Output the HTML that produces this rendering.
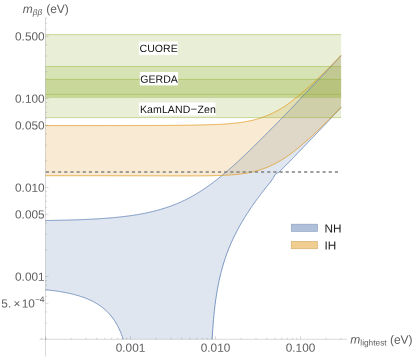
<!DOCTYPE html>
<html><head><meta charset="utf-8"><title>m_bb vs m_lightest</title>
<style>
html,body{margin:0;padding:0;background:#fff;}
svg{display:block;will-change:transform;}
text{font-family:"Liberation Sans",sans-serif;text-rendering:geometricPrecision;}
.tk{font-size:11.8px;fill:#606060;}
.lb{font-size:12px;fill:#606060;}
.bl{font-size:10.55px;fill:#111;}
.lg{font-size:11.8px;fill:#1a1a1a;}
</style></head><body>
<svg width="415" height="357" viewBox="0 0 415 357">
<rect x="0" y="0" width="415" height="357" fill="#ffffff"/>

<path d="M45.50,220.54 L46.30,220.53 L47.10,220.52 L47.90,220.50 L48.70,220.49 L49.50,220.47 L50.30,220.46 L51.10,220.45 L51.90,220.43 L52.70,220.42 L53.50,220.40 L54.30,220.39 L55.10,220.37 L55.90,220.35 L56.70,220.34 L57.50,220.32 L58.30,220.31 L59.10,220.29 L59.90,220.27 L60.70,220.25 L61.50,220.23 L62.30,220.22 L63.10,220.20 L63.90,220.18 L64.70,220.16 L65.50,220.14 L66.30,220.12 L67.10,220.09 L67.90,220.07 L68.70,220.05 L69.50,220.03 L70.30,220.01 L71.10,219.98 L71.90,219.96 L72.70,219.93 L73.50,219.91 L74.30,219.88 L75.10,219.86 L75.90,219.83 L76.70,219.80 L77.50,219.77 L78.30,219.75 L79.10,219.72 L79.90,219.69 L80.70,219.66 L81.50,219.63 L82.30,219.59 L83.10,219.56 L83.90,219.53 L84.70,219.49 L85.50,219.46 L86.30,219.42 L87.10,219.39 L87.90,219.35 L88.70,219.31 L89.50,219.27 L90.30,219.23 L91.10,219.19 L91.90,219.15 L92.70,219.11 L93.50,219.07 L94.30,219.02 L95.10,218.98 L95.90,218.93 L96.70,218.88 L97.50,218.84 L98.30,218.79 L99.10,218.74 L99.90,218.69 L100.70,218.63 L101.50,218.58 L102.30,218.53 L103.10,218.47 L103.90,218.41 L104.70,218.35 L105.50,218.30 L106.30,218.23 L107.10,218.17 L107.90,218.11 L108.70,218.05 L109.50,217.98 L110.30,217.91 L111.10,217.84 L111.90,217.78 L112.70,217.70 L113.50,217.63 L114.30,217.56 L115.10,217.48 L115.90,217.40 L116.70,217.33 L117.50,217.24 L118.30,217.16 L119.10,217.08 L119.90,216.99 L120.70,216.91 L121.50,216.82 L122.30,216.73 L123.10,216.63 L123.90,216.54 L124.70,216.44 L125.50,216.34 L126.30,216.24 L127.10,216.14 L127.90,216.03 L128.70,215.93 L129.50,215.82 L130.30,215.70 L131.10,215.59 L131.90,215.47 L132.70,215.36 L133.50,215.23 L134.30,215.11 L135.10,214.98 L135.90,214.86 L136.70,214.72 L137.50,214.59 L138.30,214.45 L139.10,214.31 L139.90,214.17 L140.70,214.03 L141.50,213.88 L142.30,213.73 L143.10,213.57 L143.90,213.42 L144.70,213.26 L145.50,213.09 L146.30,212.93 L147.10,212.76 L147.90,212.58 L148.70,212.41 L149.50,212.23 L150.30,212.04 L151.10,211.86 L151.90,211.67 L152.70,211.47 L153.50,211.28 L154.30,211.08 L155.10,210.87 L155.90,210.66 L156.70,210.45 L157.50,210.24 L158.30,210.02 L159.10,209.80 L159.90,209.57 L160.70,209.34 L161.50,209.10 L162.30,208.87 L163.10,208.62 L163.90,208.37 L164.70,208.12 L165.50,207.87 L166.30,207.60 L167.10,207.34 L167.90,207.07 L168.70,206.79 L169.50,206.51 L170.30,206.23 L171.10,205.94 L171.90,205.64 L172.70,205.34 L173.50,205.04 L174.30,204.73 L175.10,204.41 L175.90,204.09 L176.70,203.76 L177.50,203.43 L178.30,203.09 L179.10,202.75 L179.90,202.40 L180.70,202.04 L181.50,201.68 L182.30,201.31 L183.10,200.94 L183.90,200.56 L184.70,200.18 L185.50,199.79 L186.30,199.39 L187.10,198.99 L187.90,198.58 L188.70,198.16 L189.50,197.74 L190.30,197.31 L191.10,196.88 L191.90,196.44 L192.70,195.99 L193.50,195.54 L194.30,195.07 L195.10,194.61 L195.90,194.14 L196.70,193.66 L197.50,193.17 L198.30,192.68 L199.10,192.18 L199.90,191.67 L200.70,191.16 L201.50,190.65 L202.30,190.12 L203.10,189.59 L203.90,189.06 L204.70,188.52 L205.50,187.97 L206.30,187.42 L207.10,186.86 L207.90,186.30 L208.70,185.73 L209.50,185.16 L210.30,184.58 L211.10,183.99 L211.90,183.40 L212.70,182.80 L213.50,182.20 L214.30,181.59 L215.10,180.98 L215.90,180.36 L216.70,179.74 L217.50,179.11 L218.30,178.48 L219.10,177.84 L219.90,177.20 L220.70,176.55 L221.50,175.90 L222.30,175.24 L223.10,174.58 L223.90,173.91 L224.70,173.24 L225.50,172.57 L226.30,171.89 L227.10,171.20 L227.90,170.52 L228.70,169.82 L229.50,169.13 L230.30,168.43 L231.10,167.72 L231.90,167.01 L232.70,166.30 L233.50,165.58 L234.30,164.86 L235.10,164.14 L235.90,163.41 L236.70,162.68 L237.50,161.94 L238.30,161.20 L239.10,160.46 L239.90,159.72 L240.70,158.97 L241.50,158.22 L242.30,157.46 L243.10,156.71 L243.90,155.95 L244.70,155.18 L245.50,154.42 L246.30,153.65 L247.10,152.88 L247.90,152.11 L248.70,151.33 L249.50,150.55 L250.30,149.78 L251.10,149.00 L251.90,148.21 L252.70,147.43 L253.50,146.64 L254.30,145.86 L255.10,145.07 L255.90,144.28 L256.70,143.49 L257.50,142.70 L258.30,141.90 L259.10,141.11 L259.90,140.31 L260.70,139.52 L261.50,138.72 L262.30,137.93 L263.10,137.13 L263.90,136.33 L264.70,135.53 L265.50,134.73 L266.30,133.93 L267.10,133.13 L267.90,132.33 L268.70,131.52 L269.50,130.72 L270.30,129.91 L271.10,129.11 L271.90,128.30 L272.70,127.50 L273.50,126.69 L274.30,125.88 L275.10,125.07 L275.90,124.26 L276.70,123.45 L277.50,122.64 L278.30,121.83 L279.10,121.02 L279.90,120.20 L280.70,119.39 L281.50,118.57 L282.30,117.76 L283.10,116.94 L283.90,116.12 L284.70,115.31 L285.50,114.49 L286.30,113.67 L287.10,112.85 L287.90,112.02 L288.70,111.20 L289.50,110.38 L290.30,109.55 L291.10,108.72 L291.90,107.89 L292.70,107.05 L293.50,106.21 L294.30,105.36 L295.10,104.51 L295.90,103.66 L296.70,102.80 L297.50,101.95 L298.30,101.09 L299.10,100.23 L299.90,99.37 L300.70,98.52 L301.50,97.66 L302.30,96.80 L303.10,95.95 L303.90,95.10 L304.70,94.25 L305.50,93.40 L306.30,92.56 L307.10,91.71 L307.90,90.87 L308.70,90.02 L309.50,89.18 L310.30,88.33 L311.10,87.49 L311.90,86.64 L312.70,85.80 L313.50,84.96 L314.30,84.11 L315.10,83.27 L315.90,82.43 L316.70,81.58 L317.50,80.74 L318.30,79.89 L319.10,79.05 L319.90,78.20 L320.70,77.36 L321.50,76.51 L322.30,75.67 L323.10,74.82 L323.90,73.97 L324.70,73.13 L325.50,72.28 L326.30,71.43 L327.10,70.58 L327.90,69.73 L328.70,68.88 L329.50,68.03 L330.30,67.18 L331.10,66.33 L331.90,65.48 L332.70,64.63 L333.50,63.77 L334.30,62.92 L335.10,62.07 L335.90,61.22 L336.70,60.36 L337.50,59.51 L338.30,58.65 L339.10,57.80 L339.90,56.95 L341.10,55.67 L341.10,107.42 L339.90,108.72 L339.10,109.59 L338.30,110.46 L337.50,111.33 L336.70,112.19 L335.90,113.05 L335.10,113.90 L334.30,114.75 L333.50,115.60 L332.70,116.44 L331.90,117.29 L331.10,118.13 L330.30,118.98 L329.50,119.82 L328.70,120.67 L327.90,121.51 L327.10,122.36 L326.30,123.20 L325.50,124.04 L324.70,124.89 L323.90,125.73 L323.10,126.57 L322.30,127.41 L321.50,128.26 L320.70,129.10 L319.90,129.94 L319.10,130.78 L318.30,131.62 L317.50,132.46 L316.70,133.30 L315.90,134.14 L315.10,134.98 L314.30,135.82 L313.50,136.66 L312.70,137.50 L311.90,138.34 L311.10,139.17 L310.30,140.01 L309.50,140.85 L308.70,141.68 L307.90,142.52 L307.10,143.35 L306.30,144.19 L305.50,145.03 L304.70,145.86 L303.90,146.70 L303.10,147.53 L302.30,148.37 L301.50,149.20 L300.70,150.04 L299.90,150.87 L299.10,151.71 L298.30,152.54 L297.50,153.37 L296.70,154.21 L295.90,155.04 L295.10,155.87 L294.30,156.69 L293.50,157.52 L292.70,158.35 L291.90,159.18 L291.10,160.00 L290.30,160.82 L289.50,161.65 L288.70,162.46 L287.90,163.26 L287.10,164.07 L286.30,164.87 L285.50,165.68 L284.70,166.49 L283.90,167.30 L283.10,168.10 L282.30,168.90 L281.50,169.72 L280.70,170.52 L279.90,171.31 L279.10,172.03 L278.30,172.52 L277.50,172.93 L276.70,173.42 L275.90,173.95 L275.10,174.49 L274.30,175.95 L273.50,177.53 L272.70,178.78 L271.90,179.96 L271.10,181.09 L270.30,182.15 L269.50,183.14 L268.70,184.13 L267.90,185.12 L267.10,186.12 L266.30,187.13 L265.50,188.14 L264.70,189.15 L263.90,190.18 L263.10,191.21 L262.30,192.24 L261.50,193.29 L260.70,194.34 L259.90,195.40 L259.10,196.46 L258.30,197.54 L257.50,198.62 L256.70,199.71 L255.90,200.81 L255.10,201.92 L254.30,203.04 L253.50,204.17 L252.70,205.32 L251.90,206.47 L251.10,207.63 L250.30,208.81 L249.50,210.00 L248.70,211.20 L247.90,212.42 L247.10,213.65 L246.30,214.90 L245.50,216.16 L244.70,217.45 L243.90,218.75 L243.10,220.06 L242.30,221.40 L241.50,222.76 L240.70,224.14 L239.90,225.55 L239.10,226.98 L238.30,228.44 L237.50,229.93 L236.70,231.44 L235.90,232.99 L235.10,234.58 L234.30,236.19 L233.50,237.85 L232.70,239.55 L231.90,241.30 L231.10,243.10 L230.30,244.95 L229.50,246.85 L228.70,248.82 L227.90,250.86 L227.10,252.97 L226.30,255.16 L225.50,257.44 L224.70,259.83 L223.90,262.32 L223.10,264.94 L222.30,267.70 L221.50,270.63 L220.70,273.73 L219.90,277.05 L219.10,280.62 L218.30,284.48 L217.50,288.70 L216.70,293.36 L215.90,298.56 L215.10,304.48 L214.30,311.33 L213.50,319.53 L212.70,329.76 L211.90,339.30 L211.10,339.30 L210.30,339.30 L209.50,339.30 L208.70,339.30 L207.90,339.30 L207.10,339.30 L206.30,339.30 L205.50,339.30 L204.70,339.30 L203.90,339.30 L203.10,339.30 L202.30,339.30 L201.50,339.30 L200.70,339.30 L199.90,339.30 L199.10,339.30 L198.30,339.30 L197.50,339.30 L196.70,339.30 L195.90,339.30 L195.10,339.30 L194.30,339.30 L193.50,339.30 L192.70,339.30 L191.90,339.30 L191.10,339.30 L190.30,339.30 L189.50,339.30 L188.70,339.30 L187.90,339.30 L187.10,339.30 L186.30,339.30 L185.50,339.30 L184.70,339.30 L183.90,339.30 L183.10,339.30 L182.30,339.30 L181.50,339.30 L180.70,339.30 L179.90,339.30 L179.10,339.30 L178.30,339.30 L177.50,339.30 L176.70,339.30 L175.90,339.30 L175.10,339.30 L174.30,339.30 L173.50,339.30 L172.70,339.30 L171.90,339.30 L171.10,339.30 L170.30,339.30 L169.50,339.30 L168.70,339.30 L167.90,339.30 L167.10,339.30 L166.30,339.30 L165.50,339.30 L164.70,339.30 L163.90,339.30 L163.10,339.30 L162.30,339.30 L161.50,339.30 L160.70,339.30 L159.90,339.30 L159.10,339.30 L158.30,339.30 L157.50,339.30 L156.70,339.30 L155.90,339.30 L155.10,339.30 L154.30,339.30 L153.50,339.30 L152.70,339.30 L151.90,339.30 L151.10,339.30 L150.30,339.30 L149.50,339.30 L148.70,339.30 L147.90,339.30 L147.10,339.30 L146.30,339.30 L145.50,339.30 L144.70,339.30 L143.90,339.30 L143.10,339.30 L142.30,339.30 L141.50,339.30 L140.70,339.30 L139.90,339.30 L139.10,339.30 L138.30,339.30 L137.50,339.30 L136.70,339.30 L135.90,339.30 L135.10,339.30 L134.30,339.30 L133.50,339.30 L132.70,339.30 L131.90,339.30 L131.10,339.30 L130.30,339.30 L129.50,339.30 L128.70,339.30 L127.90,339.30 L127.10,339.30 L126.30,339.30 L125.50,339.30 L124.70,339.30 L123.90,339.30 L123.10,338.97 L122.30,336.62 L121.50,334.44 L120.70,332.43 L119.90,330.55 L119.10,328.80 L118.30,327.16 L117.50,325.62 L116.70,324.17 L115.90,322.80 L115.10,321.50 L114.30,320.28 L113.50,319.11 L112.70,318.01 L111.90,316.95 L111.10,315.95 L110.30,314.99 L109.50,314.08 L108.70,313.21 L107.90,312.37 L107.10,311.57 L106.30,310.80 L105.50,310.06 L104.70,309.35 L103.90,308.67 L103.10,308.02 L102.30,307.39 L101.50,306.78 L100.70,306.19 L99.90,305.63 L99.10,305.08 L98.30,304.56 L97.50,304.05 L96.70,303.56 L95.90,303.09 L95.10,302.63 L94.30,302.19 L93.50,301.76 L92.70,301.34 L91.90,300.94 L91.10,300.55 L90.30,300.17 L89.50,299.81 L88.70,299.45 L87.90,299.11 L87.10,298.78 L86.30,298.45 L85.50,298.14 L84.70,297.83 L83.90,297.54 L83.10,297.25 L82.30,296.97 L81.50,296.70 L80.70,296.44 L79.90,296.18 L79.10,295.93 L78.30,295.69 L77.50,295.45 L76.70,295.22 L75.90,295.00 L75.10,294.78 L74.30,294.57 L73.50,294.37 L72.70,294.17 L71.90,293.97 L71.10,293.78 L70.30,293.60 L69.50,293.42 L68.70,293.24 L67.90,293.07 L67.10,292.90 L66.30,292.74 L65.50,292.58 L64.70,292.43 L63.90,292.28 L63.10,292.13 L62.30,291.99 L61.50,291.85 L60.70,291.72 L59.90,291.58 L59.10,291.45 L58.30,291.33 L57.50,291.21 L56.70,291.09 L55.90,290.97 L55.10,290.86 L54.30,290.74 L53.50,290.64 L52.70,290.53 L51.90,290.43 L51.10,290.33 L50.30,290.23 L49.50,290.13 L48.70,290.04 L47.90,289.95 L47.10,289.86 L46.30,289.77 L45.50,289.68Z" fill="#5E81B5" fill-opacity="0.2" stroke="none"/>
<path d="M45.50,125.59 L46.30,125.59 L47.10,125.59 L47.90,125.59 L48.70,125.59 L49.50,125.59 L50.30,125.59 L51.10,125.59 L51.90,125.59 L52.70,125.59 L53.50,125.59 L54.30,125.59 L55.10,125.59 L55.90,125.59 L56.70,125.59 L57.50,125.59 L58.30,125.59 L59.10,125.59 L59.90,125.59 L60.70,125.59 L61.50,125.59 L62.30,125.59 L63.10,125.59 L63.90,125.59 L64.70,125.59 L65.50,125.58 L66.30,125.58 L67.10,125.58 L67.90,125.58 L68.70,125.58 L69.50,125.58 L70.30,125.58 L71.10,125.58 L71.90,125.58 L72.70,125.58 L73.50,125.58 L74.30,125.58 L75.10,125.58 L75.90,125.58 L76.70,125.58 L77.50,125.58 L78.30,125.58 L79.10,125.58 L79.90,125.58 L80.70,125.58 L81.50,125.58 L82.30,125.58 L83.10,125.58 L83.90,125.58 L84.70,125.58 L85.50,125.58 L86.30,125.58 L87.10,125.58 L87.90,125.58 L88.70,125.58 L89.50,125.58 L90.30,125.58 L91.10,125.58 L91.90,125.58 L92.70,125.58 L93.50,125.58 L94.30,125.57 L95.10,125.57 L95.90,125.57 L96.70,125.57 L97.50,125.57 L98.30,125.57 L99.10,125.57 L99.90,125.57 L100.70,125.57 L101.50,125.57 L102.30,125.57 L103.10,125.57 L103.90,125.57 L104.70,125.57 L105.50,125.57 L106.30,125.57 L107.10,125.57 L107.90,125.57 L108.70,125.57 L109.50,125.56 L110.30,125.56 L111.10,125.56 L111.90,125.56 L112.70,125.56 L113.50,125.56 L114.30,125.56 L115.10,125.56 L115.90,125.56 L116.70,125.56 L117.50,125.56 L118.30,125.56 L119.10,125.56 L119.90,125.55 L120.70,125.55 L121.50,125.55 L122.30,125.55 L123.10,125.55 L123.90,125.55 L124.70,125.55 L125.50,125.55 L126.30,125.55 L127.10,125.54 L127.90,125.54 L128.70,125.54 L129.50,125.54 L130.30,125.54 L131.10,125.54 L131.90,125.54 L132.70,125.54 L133.50,125.53 L134.30,125.53 L135.10,125.53 L135.90,125.53 L136.70,125.53 L137.50,125.53 L138.30,125.52 L139.10,125.52 L139.90,125.52 L140.70,125.52 L141.50,125.52 L142.30,125.52 L143.10,125.51 L143.90,125.51 L144.70,125.51 L145.50,125.51 L146.30,125.50 L147.10,125.50 L147.90,125.50 L148.70,125.50 L149.50,125.50 L150.30,125.49 L151.10,125.49 L151.90,125.49 L152.70,125.48 L153.50,125.48 L154.30,125.48 L155.10,125.48 L155.90,125.47 L156.70,125.47 L157.50,125.47 L158.30,125.46 L159.10,125.46 L159.90,125.45 L160.70,125.45 L161.50,125.45 L162.30,125.44 L163.10,125.44 L163.90,125.43 L164.70,125.43 L165.50,125.43 L166.30,125.42 L167.10,125.42 L167.90,125.41 L168.70,125.41 L169.50,125.40 L170.30,125.39 L171.10,125.39 L171.90,125.38 L172.70,125.38 L173.50,125.37 L174.30,125.36 L175.10,125.36 L175.90,125.35 L176.70,125.34 L177.50,125.34 L178.30,125.33 L179.10,125.32 L179.90,125.31 L180.70,125.30 L181.50,125.29 L182.30,125.29 L183.10,125.28 L183.90,125.27 L184.70,125.26 L185.50,125.25 L186.30,125.24 L187.10,125.22 L187.90,125.21 L188.70,125.20 L189.50,125.19 L190.30,125.18 L191.10,125.16 L191.90,125.15 L192.70,125.14 L193.50,125.12 L194.30,125.11 L195.10,125.09 L195.90,125.07 L196.70,125.06 L197.50,125.04 L198.30,125.02 L199.10,125.00 L199.90,124.98 L200.70,124.96 L201.50,124.94 L202.30,124.92 L203.10,124.90 L203.90,124.88 L204.70,124.86 L205.50,124.84 L206.30,124.82 L207.10,124.80 L207.90,124.77 L208.70,124.75 L209.50,124.72 L210.30,124.70 L211.10,124.67 L211.90,124.65 L212.70,124.62 L213.50,124.59 L214.30,124.56 L215.10,124.53 L215.90,124.50 L216.70,124.46 L217.50,124.43 L218.30,124.39 L219.10,124.35 L219.90,124.32 L220.70,124.27 L221.50,124.23 L222.30,124.19 L223.10,124.14 L223.90,124.09 L224.70,124.04 L225.50,123.99 L226.30,123.94 L227.10,123.88 L227.90,123.82 L228.70,123.76 L229.50,123.70 L230.30,123.63 L231.10,123.56 L231.90,123.49 L232.70,123.41 L233.50,123.33 L234.30,123.25 L235.10,123.16 L235.90,123.07 L236.70,122.98 L237.50,122.89 L238.30,122.79 L239.10,122.68 L239.90,122.58 L240.70,122.47 L241.50,122.35 L242.30,122.23 L243.10,122.11 L243.90,121.98 L244.70,121.85 L245.50,121.71 L246.30,121.57 L247.10,121.43 L247.90,121.27 L248.70,121.12 L249.50,120.95 L250.30,120.78 L251.10,120.61 L251.90,120.43 L252.70,120.24 L253.50,120.05 L254.30,119.85 L255.10,119.64 L255.90,119.42 L256.70,119.20 L257.50,118.97 L258.30,118.74 L259.10,118.49 L259.90,118.24 L260.70,117.98 L261.50,117.71 L262.30,117.44 L263.10,117.16 L263.90,116.87 L264.70,116.57 L265.50,116.26 L266.30,115.95 L267.10,115.62 L267.90,115.29 L268.70,114.95 L269.50,114.60 L270.30,114.24 L271.10,113.88 L271.90,113.50 L272.70,113.12 L273.50,112.72 L274.30,112.32 L275.10,111.91 L275.90,111.49 L276.70,111.06 L277.50,110.62 L278.30,110.17 L279.10,109.71 L279.90,109.24 L280.70,108.76 L281.50,108.28 L282.30,107.78 L283.10,107.28 L283.90,106.76 L284.70,106.24 L285.50,105.71 L286.30,105.16 L287.10,104.60 L287.90,104.02 L288.70,103.44 L289.50,102.84 L290.30,102.23 L291.10,101.62 L291.90,100.99 L292.70,100.35 L293.50,99.71 L294.30,99.07 L295.10,98.41 L295.90,97.76 L296.70,97.10 L297.50,96.43 L298.30,95.77 L299.10,95.10 L299.90,94.44 L300.70,93.77 L301.50,93.10 L302.30,92.42 L303.10,91.74 L303.90,91.06 L304.70,90.37 L305.50,89.68 L306.30,88.99 L307.10,88.29 L307.90,87.59 L308.70,86.88 L309.50,86.17 L310.30,85.46 L311.10,84.74 L311.90,84.02 L312.70,83.30 L313.50,82.57 L314.30,81.83 L315.10,81.10 L315.90,80.36 L316.70,79.62 L317.50,78.87 L318.30,78.12 L319.10,77.36 L319.90,76.60 L320.70,75.84 L321.50,75.08 L322.30,74.31 L323.10,73.53 L323.90,72.76 L324.70,71.97 L325.50,71.19 L326.30,70.40 L327.10,69.61 L327.90,68.81 L328.70,68.01 L329.50,67.20 L330.30,66.40 L331.10,65.59 L331.90,64.77 L332.70,63.95 L333.50,63.14 L334.30,62.31 L335.10,61.49 L335.90,60.66 L336.70,59.83 L337.50,59.00 L338.30,58.17 L339.10,57.33 L339.90,56.50 L341.10,55.24 L341.10,107.32 L339.90,108.54 L339.10,109.35 L338.30,110.17 L337.50,110.98 L336.70,111.79 L335.90,112.60 L335.10,113.41 L334.30,114.22 L333.50,115.02 L332.70,115.83 L331.90,116.63 L331.10,117.43 L330.30,118.23 L329.50,119.03 L328.70,119.82 L327.90,120.62 L327.10,121.41 L326.30,122.20 L325.50,122.99 L324.70,123.77 L323.90,124.56 L323.10,125.34 L322.30,126.12 L321.50,126.90 L320.70,127.67 L319.90,128.44 L319.10,129.21 L318.30,129.98 L317.50,130.74 L316.70,131.50 L315.90,132.26 L315.10,133.01 L314.30,133.76 L313.50,134.51 L312.70,135.25 L311.90,135.99 L311.10,136.73 L310.30,137.46 L309.50,138.19 L308.70,138.92 L307.90,139.64 L307.10,140.35 L306.30,141.06 L305.50,141.77 L304.70,142.47 L303.90,143.17 L303.10,143.86 L302.30,144.55 L301.50,145.23 L300.70,145.90 L299.90,146.57 L299.10,147.24 L298.30,147.90 L297.50,148.55 L296.70,149.19 L295.90,149.83 L295.10,150.46 L294.30,151.08 L293.50,151.69 L292.70,152.30 L291.90,152.90 L291.10,153.50 L290.30,154.08 L289.50,154.66 L288.70,155.23 L287.90,155.79 L287.10,156.34 L286.30,156.89 L285.50,157.42 L284.70,157.95 L283.90,158.47 L283.10,158.98 L282.30,159.49 L281.50,159.98 L280.70,160.46 L279.90,160.94 L279.10,161.41 L278.30,161.87 L277.50,162.32 L276.70,162.76 L275.90,163.19 L275.10,163.61 L274.30,164.02 L273.50,164.43 L272.70,164.83 L271.90,165.21 L271.10,165.59 L270.30,165.96 L269.50,166.32 L268.70,166.67 L267.90,167.02 L267.10,167.35 L266.30,167.67 L265.50,167.99 L264.70,168.29 L263.90,168.59 L263.10,168.88 L262.30,169.16 L261.50,169.43 L260.70,169.70 L259.90,169.95 L259.10,170.20 L258.30,170.44 L257.50,170.67 L256.70,170.89 L255.90,171.11 L255.10,171.31 L254.30,171.51 L253.50,171.71 L252.70,171.90 L251.90,172.08 L251.10,172.25 L250.30,172.42 L249.50,172.58 L248.70,172.73 L247.90,172.88 L247.10,173.03 L246.30,173.16 L245.50,173.29 L244.70,173.42 L243.90,173.54 L243.10,173.66 L242.30,173.77 L241.50,173.88 L240.70,173.98 L239.90,174.08 L239.10,174.17 L238.30,174.26 L237.50,174.35 L236.70,174.43 L235.90,174.51 L235.10,174.59 L234.30,174.66 L233.50,174.73 L232.70,174.79 L231.90,174.85 L231.10,174.91 L230.30,174.97 L229.50,175.02 L228.70,175.07 L227.90,175.12 L227.10,175.17 L226.30,175.21 L225.50,175.25 L224.70,175.29 L223.90,175.33 L223.10,175.37 L222.30,175.40 L221.50,175.43 L220.70,175.46 L219.90,175.49 L219.10,175.52 L218.30,175.54 L217.50,175.57 L216.70,175.59 L215.90,175.61 L215.10,175.63 L214.30,175.65 L213.50,175.67 L212.70,175.69 L211.90,175.70 L211.10,175.72 L210.30,175.73 L209.50,175.74 L208.70,175.76 L207.90,175.77 L207.10,175.78 L206.30,175.79 L205.50,175.80 L204.70,175.80 L203.90,175.81 L203.10,175.82 L202.30,175.83 L201.50,175.83 L200.70,175.84 L199.90,175.84 L199.10,175.85 L198.30,175.85 L197.50,175.86 L196.70,175.86 L195.90,175.86 L195.10,175.87 L194.30,175.87 L193.50,175.87 L192.70,175.87 L191.90,175.87 L191.10,175.88 L190.30,175.88 L189.50,175.88 L188.70,175.88 L187.90,175.88 L187.10,175.88 L186.30,175.88 L185.50,175.88 L184.70,175.88 L183.90,175.88 L183.10,175.88 L182.30,175.88 L181.50,175.88 L180.70,175.87 L179.90,175.87 L179.10,175.87 L178.30,175.87 L177.50,175.87 L176.70,175.87 L175.90,175.87 L175.10,175.86 L174.30,175.86 L173.50,175.86 L172.70,175.86 L171.90,175.86 L171.10,175.86 L170.30,175.85 L169.50,175.85 L168.70,175.85 L167.90,175.85 L167.10,175.85 L166.30,175.84 L165.50,175.84 L164.70,175.84 L163.90,175.84 L163.10,175.84 L162.30,175.83 L161.50,175.83 L160.70,175.83 L159.90,175.83 L159.10,175.83 L158.30,175.82 L157.50,175.82 L156.70,175.82 L155.90,175.82 L155.10,175.82 L154.30,175.81 L153.50,175.81 L152.70,175.81 L151.90,175.81 L151.10,175.81 L150.30,175.81 L149.50,175.80 L148.70,175.80 L147.90,175.80 L147.10,175.80 L146.30,175.80 L145.50,175.79 L144.70,175.79 L143.90,175.79 L143.10,175.79 L142.30,175.79 L141.50,175.79 L140.70,175.78 L139.90,175.78 L139.10,175.78 L138.30,175.78 L137.50,175.78 L136.70,175.78 L135.90,175.77 L135.10,175.77 L134.30,175.77 L133.50,175.77 L132.70,175.77 L131.90,175.77 L131.10,175.77 L130.30,175.76 L129.50,175.76 L128.70,175.76 L127.90,175.76 L127.10,175.76 L126.30,175.76 L125.50,175.76 L124.70,175.76 L123.90,175.75 L123.10,175.75 L122.30,175.75 L121.50,175.75 L120.70,175.75 L119.90,175.75 L119.10,175.75 L118.30,175.75 L117.50,175.74 L116.70,175.74 L115.90,175.74 L115.10,175.74 L114.30,175.74 L113.50,175.74 L112.70,175.74 L111.90,175.74 L111.10,175.74 L110.30,175.74 L109.50,175.74 L108.70,175.73 L107.90,175.73 L107.10,175.73 L106.30,175.73 L105.50,175.73 L104.70,175.73 L103.90,175.73 L103.10,175.73 L102.30,175.73 L101.50,175.73 L100.70,175.73 L99.90,175.73 L99.10,175.73 L98.30,175.72 L97.50,175.72 L96.70,175.72 L95.90,175.72 L95.10,175.72 L94.30,175.72 L93.50,175.72 L92.70,175.72 L91.90,175.72 L91.10,175.72 L90.30,175.72 L89.50,175.72 L88.70,175.72 L87.90,175.72 L87.10,175.72 L86.30,175.72 L85.50,175.72 L84.70,175.71 L83.90,175.71 L83.10,175.71 L82.30,175.71 L81.50,175.71 L80.70,175.71 L79.90,175.71 L79.10,175.71 L78.30,175.71 L77.50,175.71 L76.70,175.71 L75.90,175.71 L75.10,175.71 L74.30,175.71 L73.50,175.71 L72.70,175.71 L71.90,175.71 L71.10,175.71 L70.30,175.71 L69.50,175.71 L68.70,175.71 L67.90,175.71 L67.10,175.71 L66.30,175.71 L65.50,175.71 L64.70,175.71 L63.90,175.70 L63.10,175.70 L62.30,175.70 L61.50,175.70 L60.70,175.70 L59.90,175.70 L59.10,175.70 L58.30,175.70 L57.50,175.70 L56.70,175.70 L55.90,175.70 L55.10,175.70 L54.30,175.70 L53.50,175.70 L52.70,175.70 L51.90,175.70 L51.10,175.70 L50.30,175.70 L49.50,175.70 L48.70,175.70 L47.90,175.70 L47.10,175.70 L46.30,175.70 L45.50,175.70Z" fill="#E19C24" fill-opacity="0.2" stroke="none"/>
<rect x="45.5" y="34.5" width="295.6" height="59.8" fill="#8FB032" fill-opacity="0.2"/>
<rect x="45.5" y="66.4" width="295.6" height="31.099999999999994" fill="#8FB032" fill-opacity="0.2"/>
<rect x="45.5" y="79.3" width="295.6" height="38.2" fill="#8FB032" fill-opacity="0.2"/>
<rect x="45.5" y="94.3" width="295.6" height="3.3" fill="#8FB032" fill-opacity="0.2"/>
<path d="M45.50,220.54 L46.30,220.53 L47.10,220.52 L47.90,220.50 L48.70,220.49 L49.50,220.47 L50.30,220.46 L51.10,220.45 L51.90,220.43 L52.70,220.42 L53.50,220.40 L54.30,220.39 L55.10,220.37 L55.90,220.35 L56.70,220.34 L57.50,220.32 L58.30,220.31 L59.10,220.29 L59.90,220.27 L60.70,220.25 L61.50,220.23 L62.30,220.22 L63.10,220.20 L63.90,220.18 L64.70,220.16 L65.50,220.14 L66.30,220.12 L67.10,220.09 L67.90,220.07 L68.70,220.05 L69.50,220.03 L70.30,220.01 L71.10,219.98 L71.90,219.96 L72.70,219.93 L73.50,219.91 L74.30,219.88 L75.10,219.86 L75.90,219.83 L76.70,219.80 L77.50,219.77 L78.30,219.75 L79.10,219.72 L79.90,219.69 L80.70,219.66 L81.50,219.63 L82.30,219.59 L83.10,219.56 L83.90,219.53 L84.70,219.49 L85.50,219.46 L86.30,219.42 L87.10,219.39 L87.90,219.35 L88.70,219.31 L89.50,219.27 L90.30,219.23 L91.10,219.19 L91.90,219.15 L92.70,219.11 L93.50,219.07 L94.30,219.02 L95.10,218.98 L95.90,218.93 L96.70,218.88 L97.50,218.84 L98.30,218.79 L99.10,218.74 L99.90,218.69 L100.70,218.63 L101.50,218.58 L102.30,218.53 L103.10,218.47 L103.90,218.41 L104.70,218.35 L105.50,218.30 L106.30,218.23 L107.10,218.17 L107.90,218.11 L108.70,218.05 L109.50,217.98 L110.30,217.91 L111.10,217.84 L111.90,217.78 L112.70,217.70 L113.50,217.63 L114.30,217.56 L115.10,217.48 L115.90,217.40 L116.70,217.33 L117.50,217.24 L118.30,217.16 L119.10,217.08 L119.90,216.99 L120.70,216.91 L121.50,216.82 L122.30,216.73 L123.10,216.63 L123.90,216.54 L124.70,216.44 L125.50,216.34 L126.30,216.24 L127.10,216.14 L127.90,216.03 L128.70,215.93 L129.50,215.82 L130.30,215.70 L131.10,215.59 L131.90,215.47 L132.70,215.36 L133.50,215.23 L134.30,215.11 L135.10,214.98 L135.90,214.86 L136.70,214.72 L137.50,214.59 L138.30,214.45 L139.10,214.31 L139.90,214.17 L140.70,214.03 L141.50,213.88 L142.30,213.73 L143.10,213.57 L143.90,213.42 L144.70,213.26 L145.50,213.09 L146.30,212.93 L147.10,212.76 L147.90,212.58 L148.70,212.41 L149.50,212.23 L150.30,212.04 L151.10,211.86 L151.90,211.67 L152.70,211.47 L153.50,211.28 L154.30,211.08 L155.10,210.87 L155.90,210.66 L156.70,210.45 L157.50,210.24 L158.30,210.02 L159.10,209.80 L159.90,209.57 L160.70,209.34 L161.50,209.10 L162.30,208.87 L163.10,208.62 L163.90,208.37 L164.70,208.12 L165.50,207.87 L166.30,207.60 L167.10,207.34 L167.90,207.07 L168.70,206.79 L169.50,206.51 L170.30,206.23 L171.10,205.94 L171.90,205.64 L172.70,205.34 L173.50,205.04 L174.30,204.73 L175.10,204.41 L175.90,204.09 L176.70,203.76 L177.50,203.43 L178.30,203.09 L179.10,202.75 L179.90,202.40 L180.70,202.04 L181.50,201.68 L182.30,201.31 L183.10,200.94 L183.90,200.56 L184.70,200.18 L185.50,199.79 L186.30,199.39 L187.10,198.99 L187.90,198.58 L188.70,198.16 L189.50,197.74 L190.30,197.31 L191.10,196.88 L191.90,196.44 L192.70,195.99 L193.50,195.54 L194.30,195.07 L195.10,194.61 L195.90,194.14 L196.70,193.66 L197.50,193.17 L198.30,192.68 L199.10,192.18 L199.90,191.67 L200.70,191.16 L201.50,190.65 L202.30,190.12 L203.10,189.59 L203.90,189.06 L204.70,188.52 L205.50,187.97 L206.30,187.42 L207.10,186.86 L207.90,186.30 L208.70,185.73 L209.50,185.16 L210.30,184.58 L211.10,183.99 L211.90,183.40 L212.70,182.80 L213.50,182.20 L214.30,181.59 L215.10,180.98 L215.90,180.36 L216.70,179.74 L217.50,179.11 L218.30,178.48 L219.10,177.84 L219.90,177.20 L220.70,176.55 L221.50,175.90 L222.30,175.24 L223.10,174.58 L223.90,173.91 L224.70,173.24 L225.50,172.57 L226.30,171.89 L227.10,171.20 L227.90,170.52 L228.70,169.82 L229.50,169.13 L230.30,168.43 L231.10,167.72 L231.90,167.01 L232.70,166.30 L233.50,165.58 L234.30,164.86 L235.10,164.14 L235.90,163.41 L236.70,162.68 L237.50,161.94 L238.30,161.20 L239.10,160.46 L239.90,159.72 L240.70,158.97 L241.50,158.22 L242.30,157.46 L243.10,156.71 L243.90,155.95 L244.70,155.18 L245.50,154.42 L246.30,153.65 L247.10,152.88 L247.90,152.11 L248.70,151.33 L249.50,150.55 L250.30,149.78 L251.10,149.00 L251.90,148.21 L252.70,147.43 L253.50,146.64 L254.30,145.86 L255.10,145.07 L255.90,144.28 L256.70,143.49 L257.50,142.70 L258.30,141.90 L259.10,141.11 L259.90,140.31 L260.70,139.52 L261.50,138.72 L262.30,137.93 L263.10,137.13 L263.90,136.33 L264.70,135.53 L265.50,134.73 L266.30,133.93 L267.10,133.13 L267.90,132.33 L268.70,131.52 L269.50,130.72 L270.30,129.91 L271.10,129.11 L271.90,128.30 L272.70,127.50 L273.50,126.69 L274.30,125.88 L275.10,125.07 L275.90,124.26 L276.70,123.45 L277.50,122.64 L278.30,121.83 L279.10,121.02 L279.90,120.20 L280.70,119.39 L281.50,118.57 L282.30,117.76 L283.10,116.94 L283.90,116.12 L284.70,115.31 L285.50,114.49 L286.30,113.67 L287.10,112.85 L287.90,112.02 L288.70,111.20 L289.50,110.38 L290.30,109.55 L291.10,108.72 L291.90,107.89 L292.70,107.05 L293.50,106.21 L294.30,105.36 L295.10,104.51 L295.90,103.66 L296.70,102.80 L297.50,101.95 L298.30,101.09 L299.10,100.23 L299.90,99.37 L300.70,98.52 L301.50,97.66 L302.30,96.80 L303.10,95.95 L303.90,95.10 L304.70,94.25 L305.50,93.40 L306.30,92.56 L307.10,91.71 L307.90,90.87 L308.70,90.02 L309.50,89.18 L310.30,88.33 L311.10,87.49 L311.90,86.64 L312.70,85.80 L313.50,84.96 L314.30,84.11 L315.10,83.27 L315.90,82.43 L316.70,81.58 L317.50,80.74 L318.30,79.89 L319.10,79.05 L319.90,78.20 L320.70,77.36 L321.50,76.51 L322.30,75.67 L323.10,74.82 L323.90,73.97 L324.70,73.13 L325.50,72.28 L326.30,71.43 L327.10,70.58 L327.90,69.73 L328.70,68.88 L329.50,68.03 L330.30,67.18 L331.10,66.33 L331.90,65.48 L332.70,64.63 L333.50,63.77 L334.30,62.92 L335.10,62.07 L335.90,61.22 L336.70,60.36 L337.50,59.51 L338.30,58.65 L339.10,57.80 L339.90,56.95 L341.10,55.67" fill="none" stroke="#5E81B5" stroke-width="0.8"/>
<path d="M45.50,289.68 L46.30,289.77 L47.10,289.86 L47.90,289.95 L48.70,290.04 L49.50,290.13 L50.30,290.23 L51.10,290.33 L51.90,290.43 L52.70,290.53 L53.50,290.64 L54.30,290.74 L55.10,290.86 L55.90,290.97 L56.70,291.09 L57.50,291.21 L58.30,291.33 L59.10,291.45 L59.90,291.58 L60.70,291.72 L61.50,291.85 L62.30,291.99 L63.10,292.13 L63.90,292.28 L64.70,292.43 L65.50,292.58 L66.30,292.74 L67.10,292.90 L67.90,293.07 L68.70,293.24 L69.50,293.42 L70.30,293.60 L71.10,293.78 L71.90,293.97 L72.70,294.17 L73.50,294.37 L74.30,294.57 L75.10,294.78 L75.90,295.00 L76.70,295.22 L77.50,295.45 L78.30,295.69 L79.10,295.93 L79.90,296.18 L80.70,296.44 L81.50,296.70 L82.30,296.97 L83.10,297.25 L83.90,297.54 L84.70,297.83 L85.50,298.14 L86.30,298.45 L87.10,298.78 L87.90,299.11 L88.70,299.45 L89.50,299.81 L90.30,300.17 L91.10,300.55 L91.90,300.94 L92.70,301.34 L93.50,301.76 L94.30,302.19 L95.10,302.63 L95.90,303.09 L96.70,303.56 L97.50,304.05 L98.30,304.56 L99.10,305.08 L99.90,305.63 L100.70,306.19 L101.50,306.78 L102.30,307.39 L103.10,308.02 L103.90,308.67 L104.70,309.35 L105.50,310.06 L106.30,310.80 L107.10,311.57 L107.90,312.37 L108.70,313.21 L109.50,314.08 L110.30,314.99 L111.10,315.95 L111.90,316.95 L112.70,318.01 L113.50,319.11 L114.30,320.28 L115.10,321.50 L115.90,322.80 L116.70,324.17 L117.50,325.62 L118.30,327.16 L119.10,328.80 L119.90,330.55 L120.70,332.43 L121.50,334.44 L122.30,336.62 L123.10,338.97 L123.20,339.30" fill="none" stroke="#5E81B5" stroke-width="0.8"/>
<path d="M212.14,339.30 L212.70,329.76 L213.50,319.53 L214.30,311.33 L215.10,304.48 L215.90,298.56 L216.70,293.36 L217.50,288.70 L218.30,284.48 L219.10,280.62 L219.90,277.05 L220.70,273.73 L221.50,270.63 L222.30,267.70 L223.10,264.94 L223.90,262.32 L224.70,259.83 L225.50,257.44 L226.30,255.16 L227.10,252.97 L227.90,250.86 L228.70,248.82 L229.50,246.85 L230.30,244.95 L231.10,243.10 L231.90,241.30 L232.70,239.55 L233.50,237.85 L234.30,236.19 L235.10,234.58 L235.90,232.99 L236.70,231.44 L237.50,229.93 L238.30,228.44 L239.10,226.98 L239.90,225.55 L240.70,224.14 L241.50,222.76 L242.30,221.40 L243.10,220.06 L243.90,218.75 L244.70,217.45 L245.50,216.16 L246.30,214.90 L247.10,213.65 L247.90,212.42 L248.70,211.20 L249.50,210.00 L250.30,208.81 L251.10,207.63 L251.90,206.47 L252.70,205.32 L253.50,204.17 L254.30,203.04 L255.10,201.92 L255.90,200.81 L256.70,199.71 L257.50,198.62 L258.30,197.54 L259.10,196.46 L259.90,195.40 L260.70,194.34 L261.50,193.29 L262.30,192.24 L263.10,191.21 L263.90,190.18 L264.70,189.15 L265.50,188.14 L266.30,187.13 L267.10,186.12 L267.90,185.12 L268.70,184.13 L269.50,183.14 L270.30,182.15 L271.10,181.09 L271.90,179.96 L272.70,178.78 L273.50,177.53 L274.30,175.95 L275.10,174.49 L275.90,173.95 L276.70,173.42 L277.50,172.93 L278.30,172.52 L279.10,172.03 L279.90,171.31 L280.70,170.52 L281.50,169.72 L282.30,168.90 L283.10,168.10 L283.90,167.30 L284.70,166.49 L285.50,165.68 L286.30,164.87 L287.10,164.07 L287.90,163.26 L288.70,162.46 L289.50,161.65 L290.30,160.82 L291.10,160.00 L291.90,159.18 L292.70,158.35 L293.50,157.52 L294.30,156.69 L295.10,155.87 L295.90,155.04 L296.70,154.21 L297.50,153.37 L298.30,152.54 L299.10,151.71 L299.90,150.87 L300.70,150.04 L301.50,149.20 L302.30,148.37 L303.10,147.53 L303.90,146.70 L304.70,145.86 L305.50,145.03 L306.30,144.19 L307.10,143.35 L307.90,142.52 L308.70,141.68 L309.50,140.85 L310.30,140.01 L311.10,139.17 L311.90,138.34 L312.70,137.50 L313.50,136.66 L314.30,135.82 L315.10,134.98 L315.90,134.14 L316.70,133.30 L317.50,132.46 L318.30,131.62 L319.10,130.78 L319.90,129.94 L320.70,129.10 L321.50,128.26 L322.30,127.41 L323.10,126.57 L323.90,125.73 L324.70,124.89 L325.50,124.04 L326.30,123.20 L327.10,122.36 L327.90,121.51 L328.70,120.67 L329.50,119.82 L330.30,118.98 L331.10,118.13 L331.90,117.29 L332.70,116.44 L333.50,115.60 L334.30,114.75 L335.10,113.90 L335.90,113.05 L336.70,112.19 L337.50,111.33 L338.30,110.46 L339.10,109.59 L339.90,108.72 L341.10,107.42" fill="none" stroke="#5E81B5" stroke-width="0.8"/>
<path d="M45.50,125.59 L46.30,125.59 L47.10,125.59 L47.90,125.59 L48.70,125.59 L49.50,125.59 L50.30,125.59 L51.10,125.59 L51.90,125.59 L52.70,125.59 L53.50,125.59 L54.30,125.59 L55.10,125.59 L55.90,125.59 L56.70,125.59 L57.50,125.59 L58.30,125.59 L59.10,125.59 L59.90,125.59 L60.70,125.59 L61.50,125.59 L62.30,125.59 L63.10,125.59 L63.90,125.59 L64.70,125.59 L65.50,125.58 L66.30,125.58 L67.10,125.58 L67.90,125.58 L68.70,125.58 L69.50,125.58 L70.30,125.58 L71.10,125.58 L71.90,125.58 L72.70,125.58 L73.50,125.58 L74.30,125.58 L75.10,125.58 L75.90,125.58 L76.70,125.58 L77.50,125.58 L78.30,125.58 L79.10,125.58 L79.90,125.58 L80.70,125.58 L81.50,125.58 L82.30,125.58 L83.10,125.58 L83.90,125.58 L84.70,125.58 L85.50,125.58 L86.30,125.58 L87.10,125.58 L87.90,125.58 L88.70,125.58 L89.50,125.58 L90.30,125.58 L91.10,125.58 L91.90,125.58 L92.70,125.58 L93.50,125.58 L94.30,125.57 L95.10,125.57 L95.90,125.57 L96.70,125.57 L97.50,125.57 L98.30,125.57 L99.10,125.57 L99.90,125.57 L100.70,125.57 L101.50,125.57 L102.30,125.57 L103.10,125.57 L103.90,125.57 L104.70,125.57 L105.50,125.57 L106.30,125.57 L107.10,125.57 L107.90,125.57 L108.70,125.57 L109.50,125.56 L110.30,125.56 L111.10,125.56 L111.90,125.56 L112.70,125.56 L113.50,125.56 L114.30,125.56 L115.10,125.56 L115.90,125.56 L116.70,125.56 L117.50,125.56 L118.30,125.56 L119.10,125.56 L119.90,125.55 L120.70,125.55 L121.50,125.55 L122.30,125.55 L123.10,125.55 L123.90,125.55 L124.70,125.55 L125.50,125.55 L126.30,125.55 L127.10,125.54 L127.90,125.54 L128.70,125.54 L129.50,125.54 L130.30,125.54 L131.10,125.54 L131.90,125.54 L132.70,125.54 L133.50,125.53 L134.30,125.53 L135.10,125.53 L135.90,125.53 L136.70,125.53 L137.50,125.53 L138.30,125.52 L139.10,125.52 L139.90,125.52 L140.70,125.52 L141.50,125.52 L142.30,125.52 L143.10,125.51 L143.90,125.51 L144.70,125.51 L145.50,125.51 L146.30,125.50 L147.10,125.50 L147.90,125.50 L148.70,125.50 L149.50,125.50 L150.30,125.49 L151.10,125.49 L151.90,125.49 L152.70,125.48 L153.50,125.48 L154.30,125.48 L155.10,125.48 L155.90,125.47 L156.70,125.47 L157.50,125.47 L158.30,125.46 L159.10,125.46 L159.90,125.45 L160.70,125.45 L161.50,125.45 L162.30,125.44 L163.10,125.44 L163.90,125.43 L164.70,125.43 L165.50,125.43 L166.30,125.42 L167.10,125.42 L167.90,125.41 L168.70,125.41 L169.50,125.40 L170.30,125.39 L171.10,125.39 L171.90,125.38 L172.70,125.38 L173.50,125.37 L174.30,125.36 L175.10,125.36 L175.90,125.35 L176.70,125.34 L177.50,125.34 L178.30,125.33 L179.10,125.32 L179.90,125.31 L180.70,125.30 L181.50,125.29 L182.30,125.29 L183.10,125.28 L183.90,125.27 L184.70,125.26 L185.50,125.25 L186.30,125.24 L187.10,125.22 L187.90,125.21 L188.70,125.20 L189.50,125.19 L190.30,125.18 L191.10,125.16 L191.90,125.15 L192.70,125.14 L193.50,125.12 L194.30,125.11 L195.10,125.09 L195.90,125.07 L196.70,125.06 L197.50,125.04 L198.30,125.02 L199.10,125.00 L199.90,124.98 L200.70,124.96 L201.50,124.94 L202.30,124.92 L203.10,124.90 L203.90,124.88 L204.70,124.86 L205.50,124.84 L206.30,124.82 L207.10,124.80 L207.90,124.77 L208.70,124.75 L209.50,124.72 L210.30,124.70 L211.10,124.67 L211.90,124.65 L212.70,124.62 L213.50,124.59 L214.30,124.56 L215.10,124.53 L215.90,124.50 L216.70,124.46 L217.50,124.43 L218.30,124.39 L219.10,124.35 L219.90,124.32 L220.70,124.27 L221.50,124.23 L222.30,124.19 L223.10,124.14 L223.90,124.09 L224.70,124.04 L225.50,123.99 L226.30,123.94 L227.10,123.88 L227.90,123.82 L228.70,123.76 L229.50,123.70 L230.30,123.63 L231.10,123.56 L231.90,123.49 L232.70,123.41 L233.50,123.33 L234.30,123.25 L235.10,123.16 L235.90,123.07 L236.70,122.98 L237.50,122.89 L238.30,122.79 L239.10,122.68 L239.90,122.58 L240.70,122.47 L241.50,122.35 L242.30,122.23 L243.10,122.11 L243.90,121.98 L244.70,121.85 L245.50,121.71 L246.30,121.57 L247.10,121.43 L247.90,121.27 L248.70,121.12 L249.50,120.95 L250.30,120.78 L251.10,120.61 L251.90,120.43 L252.70,120.24 L253.50,120.05 L254.30,119.85 L255.10,119.64 L255.90,119.42 L256.70,119.20 L257.50,118.97 L258.30,118.74 L259.10,118.49 L259.90,118.24 L260.70,117.98 L261.50,117.71 L262.30,117.44 L263.10,117.16 L263.90,116.87 L264.70,116.57 L265.50,116.26 L266.30,115.95 L267.10,115.62 L267.90,115.29 L268.70,114.95 L269.50,114.60 L270.30,114.24 L271.10,113.88 L271.90,113.50 L272.70,113.12 L273.50,112.72 L274.30,112.32 L275.10,111.91 L275.90,111.49 L276.70,111.06 L277.50,110.62 L278.30,110.17 L279.10,109.71 L279.90,109.24 L280.70,108.76 L281.50,108.28 L282.30,107.78 L283.10,107.28 L283.90,106.76 L284.70,106.24 L285.50,105.71 L286.30,105.16 L287.10,104.60 L287.90,104.02 L288.70,103.44 L289.50,102.84 L290.30,102.23 L291.10,101.62 L291.90,100.99 L292.70,100.35 L293.50,99.71 L294.30,99.07 L295.10,98.41 L295.90,97.76 L296.70,97.10 L297.50,96.43 L298.30,95.77 L299.10,95.10 L299.90,94.44 L300.70,93.77 L301.50,93.10 L302.30,92.42 L303.10,91.74 L303.90,91.06 L304.70,90.37 L305.50,89.68 L306.30,88.99 L307.10,88.29 L307.90,87.59 L308.70,86.88 L309.50,86.17 L310.30,85.46 L311.10,84.74 L311.90,84.02 L312.70,83.30 L313.50,82.57 L314.30,81.83 L315.10,81.10 L315.90,80.36 L316.70,79.62 L317.50,78.87 L318.30,78.12 L319.10,77.36 L319.90,76.60 L320.70,75.84 L321.50,75.08 L322.30,74.31 L323.10,73.53 L323.90,72.76 L324.70,71.97 L325.50,71.19 L326.30,70.40 L327.10,69.61 L327.90,68.81 L328.70,68.01 L329.50,67.20 L330.30,66.40 L331.10,65.59 L331.90,64.77 L332.70,63.95 L333.50,63.14 L334.30,62.31 L335.10,61.49 L335.90,60.66 L336.70,59.83 L337.50,59.00 L338.30,58.17 L339.10,57.33 L339.90,56.50 L341.10,55.24" fill="none" stroke="#E19C24" stroke-width="0.8"/>
<path d="M45.50,175.70 L46.30,175.70 L47.10,175.70 L47.90,175.70 L48.70,175.70 L49.50,175.70 L50.30,175.70 L51.10,175.70 L51.90,175.70 L52.70,175.70 L53.50,175.70 L54.30,175.70 L55.10,175.70 L55.90,175.70 L56.70,175.70 L57.50,175.70 L58.30,175.70 L59.10,175.70 L59.90,175.70 L60.70,175.70 L61.50,175.70 L62.30,175.70 L63.10,175.70 L63.90,175.70 L64.70,175.71 L65.50,175.71 L66.30,175.71 L67.10,175.71 L67.90,175.71 L68.70,175.71 L69.50,175.71 L70.30,175.71 L71.10,175.71 L71.90,175.71 L72.70,175.71 L73.50,175.71 L74.30,175.71 L75.10,175.71 L75.90,175.71 L76.70,175.71 L77.50,175.71 L78.30,175.71 L79.10,175.71 L79.90,175.71 L80.70,175.71 L81.50,175.71 L82.30,175.71 L83.10,175.71 L83.90,175.71 L84.70,175.71 L85.50,175.72 L86.30,175.72 L87.10,175.72 L87.90,175.72 L88.70,175.72 L89.50,175.72 L90.30,175.72 L91.10,175.72 L91.90,175.72 L92.70,175.72 L93.50,175.72 L94.30,175.72 L95.10,175.72 L95.90,175.72 L96.70,175.72 L97.50,175.72 L98.30,175.72 L99.10,175.73 L99.90,175.73 L100.70,175.73 L101.50,175.73 L102.30,175.73 L103.10,175.73 L103.90,175.73 L104.70,175.73 L105.50,175.73 L106.30,175.73 L107.10,175.73 L107.90,175.73 L108.70,175.73 L109.50,175.74 L110.30,175.74 L111.10,175.74 L111.90,175.74 L112.70,175.74 L113.50,175.74 L114.30,175.74 L115.10,175.74 L115.90,175.74 L116.70,175.74 L117.50,175.74 L118.30,175.75 L119.10,175.75 L119.90,175.75 L120.70,175.75 L121.50,175.75 L122.30,175.75 L123.10,175.75 L123.90,175.75 L124.70,175.76 L125.50,175.76 L126.30,175.76 L127.10,175.76 L127.90,175.76 L128.70,175.76 L129.50,175.76 L130.30,175.76 L131.10,175.77 L131.90,175.77 L132.70,175.77 L133.50,175.77 L134.30,175.77 L135.10,175.77 L135.90,175.77 L136.70,175.78 L137.50,175.78 L138.30,175.78 L139.10,175.78 L139.90,175.78 L140.70,175.78 L141.50,175.79 L142.30,175.79 L143.10,175.79 L143.90,175.79 L144.70,175.79 L145.50,175.79 L146.30,175.80 L147.10,175.80 L147.90,175.80 L148.70,175.80 L149.50,175.80 L150.30,175.81 L151.10,175.81 L151.90,175.81 L152.70,175.81 L153.50,175.81 L154.30,175.81 L155.10,175.82 L155.90,175.82 L156.70,175.82 L157.50,175.82 L158.30,175.82 L159.10,175.83 L159.90,175.83 L160.70,175.83 L161.50,175.83 L162.30,175.83 L163.10,175.84 L163.90,175.84 L164.70,175.84 L165.50,175.84 L166.30,175.84 L167.10,175.85 L167.90,175.85 L168.70,175.85 L169.50,175.85 L170.30,175.85 L171.10,175.86 L171.90,175.86 L172.70,175.86 L173.50,175.86 L174.30,175.86 L175.10,175.86 L175.90,175.87 L176.70,175.87 L177.50,175.87 L178.30,175.87 L179.10,175.87 L179.90,175.87 L180.70,175.87 L181.50,175.88 L182.30,175.88 L183.10,175.88 L183.90,175.88 L184.70,175.88 L185.50,175.88 L186.30,175.88 L187.10,175.88 L187.90,175.88 L188.70,175.88 L189.50,175.88 L190.30,175.88 L191.10,175.88 L191.90,175.87 L192.70,175.87 L193.50,175.87 L194.30,175.87 L195.10,175.87 L195.90,175.86 L196.70,175.86 L197.50,175.86 L198.30,175.85 L199.10,175.85 L199.90,175.84 L200.70,175.84 L201.50,175.83 L202.30,175.83 L203.10,175.82 L203.90,175.81 L204.70,175.80 L205.50,175.80 L206.30,175.79 L207.10,175.78 L207.90,175.77 L208.70,175.76 L209.50,175.74 L210.30,175.73 L211.10,175.72 L211.90,175.70 L212.70,175.69 L213.50,175.67 L214.30,175.65 L215.10,175.63 L215.90,175.61 L216.70,175.59 L217.50,175.57 L218.30,175.54 L219.10,175.52 L219.90,175.49 L220.70,175.46 L221.50,175.43 L222.30,175.40 L223.10,175.37 L223.90,175.33 L224.70,175.29 L225.50,175.25 L226.30,175.21 L227.10,175.17 L227.90,175.12 L228.70,175.07 L229.50,175.02 L230.30,174.97 L231.10,174.91 L231.90,174.85 L232.70,174.79 L233.50,174.73 L234.30,174.66 L235.10,174.59 L235.90,174.51 L236.70,174.43 L237.50,174.35 L238.30,174.26 L239.10,174.17 L239.90,174.08 L240.70,173.98 L241.50,173.88 L242.30,173.77 L243.10,173.66 L243.90,173.54 L244.70,173.42 L245.50,173.29 L246.30,173.16 L247.10,173.03 L247.90,172.88 L248.70,172.73 L249.50,172.58 L250.30,172.42 L251.10,172.25 L251.90,172.08 L252.70,171.90 L253.50,171.71 L254.30,171.51 L255.10,171.31 L255.90,171.11 L256.70,170.89 L257.50,170.67 L258.30,170.44 L259.10,170.20 L259.90,169.95 L260.70,169.70 L261.50,169.43 L262.30,169.16 L263.10,168.88 L263.90,168.59 L264.70,168.29 L265.50,167.99 L266.30,167.67 L267.10,167.35 L267.90,167.02 L268.70,166.67 L269.50,166.32 L270.30,165.96 L271.10,165.59 L271.90,165.21 L272.70,164.83 L273.50,164.43 L274.30,164.02 L275.10,163.61 L275.90,163.19 L276.70,162.76 L277.50,162.32 L278.30,161.87 L279.10,161.41 L279.90,160.94 L280.70,160.46 L281.50,159.98 L282.30,159.49 L283.10,158.98 L283.90,158.47 L284.70,157.95 L285.50,157.42 L286.30,156.89 L287.10,156.34 L287.90,155.79 L288.70,155.23 L289.50,154.66 L290.30,154.08 L291.10,153.50 L291.90,152.90 L292.70,152.30 L293.50,151.69 L294.30,151.08 L295.10,150.46 L295.90,149.83 L296.70,149.19 L297.50,148.55 L298.30,147.90 L299.10,147.24 L299.90,146.57 L300.70,145.90 L301.50,145.23 L302.30,144.55 L303.10,143.86 L303.90,143.17 L304.70,142.47 L305.50,141.77 L306.30,141.06 L307.10,140.35 L307.90,139.64 L308.70,138.92 L309.50,138.19 L310.30,137.46 L311.10,136.73 L311.90,135.99 L312.70,135.25 L313.50,134.51 L314.30,133.76 L315.10,133.01 L315.90,132.26 L316.70,131.50 L317.50,130.74 L318.30,129.98 L319.10,129.21 L319.90,128.44 L320.70,127.67 L321.50,126.90 L322.30,126.12 L323.10,125.34 L323.90,124.56 L324.70,123.77 L325.50,122.99 L326.30,122.20 L327.10,121.41 L327.90,120.62 L328.70,119.82 L329.50,119.03 L330.30,118.23 L331.10,117.43 L331.90,116.63 L332.70,115.83 L333.50,115.02 L334.30,114.22 L335.10,113.41 L335.90,112.60 L336.70,111.79 L337.50,110.98 L338.30,110.17 L339.10,109.35 L339.90,108.54 L341.10,107.32" fill="none" stroke="#E19C24" stroke-width="0.8"/>
<line x1="45.5" y1="34.6" x2="341.1" y2="34.6" stroke="#8FB032" stroke-width="0.450"/>
<line x1="45.5" y1="94.39999999999999" x2="341.1" y2="94.39999999999999" stroke="#8FB032" stroke-width="0.450"/>
<line x1="45.5" y1="66.5" x2="341.1" y2="66.5" stroke="#8FB032" stroke-width="0.450"/>
<line x1="45.5" y1="97.6" x2="341.1" y2="97.6" stroke="#8FB032" stroke-width="0.225"/>
<line x1="45.5" y1="79.39999999999999" x2="341.1" y2="79.39999999999999" stroke="#8FB032" stroke-width="0.450"/>
<line x1="45.5" y1="117.6" x2="341.1" y2="117.6" stroke="#8FB032" stroke-width="0.450"/>
<line x1="45.8" y1="171.9" x2="341.1" y2="171.9" stroke="#808080" stroke-width="1.5" stroke-dasharray="3.15 3.0"/>
<line x1="45.5" y1="17.8" x2="45.5" y2="356.5" stroke="#666" stroke-width="0.25"/>
<line x1="39.5" y1="339.3" x2="347" y2="339.3" stroke="#666" stroke-width="0.25"/>
<line x1="41.61" y1="339.3" x2="41.61" y2="337.7" stroke="#666" stroke-width="0.25"/>
<line x1="45.50" y1="339.3" x2="45.50" y2="336.3" stroke="#666" stroke-width="0.25"/>
<line x1="71.09" y1="339.3" x2="71.09" y2="337.7" stroke="#666" stroke-width="0.25"/>
<line x1="86.06" y1="339.3" x2="86.06" y2="337.7" stroke="#666" stroke-width="0.25"/>
<line x1="96.68" y1="339.3" x2="96.68" y2="337.7" stroke="#666" stroke-width="0.25"/>
<line x1="104.91" y1="339.3" x2="104.91" y2="337.7" stroke="#666" stroke-width="0.25"/>
<line x1="111.64" y1="339.3" x2="111.64" y2="337.7" stroke="#666" stroke-width="0.25"/>
<line x1="117.33" y1="339.3" x2="117.33" y2="337.7" stroke="#666" stroke-width="0.25"/>
<line x1="122.26" y1="339.3" x2="122.26" y2="337.7" stroke="#666" stroke-width="0.25"/>
<line x1="126.61" y1="339.3" x2="126.61" y2="337.7" stroke="#666" stroke-width="0.25"/>
<line x1="130.50" y1="339.3" x2="130.50" y2="336.3" stroke="#666" stroke-width="0.25"/>
<line x1="156.09" y1="339.3" x2="156.09" y2="337.7" stroke="#666" stroke-width="0.25"/>
<line x1="171.06" y1="339.3" x2="171.06" y2="337.7" stroke="#666" stroke-width="0.25"/>
<line x1="181.68" y1="339.3" x2="181.68" y2="337.7" stroke="#666" stroke-width="0.25"/>
<line x1="189.91" y1="339.3" x2="189.91" y2="337.7" stroke="#666" stroke-width="0.25"/>
<line x1="196.64" y1="339.3" x2="196.64" y2="337.7" stroke="#666" stroke-width="0.25"/>
<line x1="202.33" y1="339.3" x2="202.33" y2="337.7" stroke="#666" stroke-width="0.25"/>
<line x1="207.26" y1="339.3" x2="207.26" y2="337.7" stroke="#666" stroke-width="0.25"/>
<line x1="211.61" y1="339.3" x2="211.61" y2="337.7" stroke="#666" stroke-width="0.25"/>
<line x1="215.50" y1="339.3" x2="215.50" y2="336.3" stroke="#666" stroke-width="0.25"/>
<line x1="241.09" y1="339.3" x2="241.09" y2="337.7" stroke="#666" stroke-width="0.25"/>
<line x1="256.06" y1="339.3" x2="256.06" y2="337.7" stroke="#666" stroke-width="0.25"/>
<line x1="266.68" y1="339.3" x2="266.68" y2="337.7" stroke="#666" stroke-width="0.25"/>
<line x1="274.91" y1="339.3" x2="274.91" y2="337.7" stroke="#666" stroke-width="0.25"/>
<line x1="281.64" y1="339.3" x2="281.64" y2="337.7" stroke="#666" stroke-width="0.25"/>
<line x1="287.33" y1="339.3" x2="287.33" y2="337.7" stroke="#666" stroke-width="0.25"/>
<line x1="292.26" y1="339.3" x2="292.26" y2="337.7" stroke="#666" stroke-width="0.25"/>
<line x1="296.61" y1="339.3" x2="296.61" y2="337.7" stroke="#666" stroke-width="0.25"/>
<line x1="300.50" y1="339.3" x2="300.50" y2="336.3" stroke="#666" stroke-width="0.25"/>
<line x1="326.09" y1="339.3" x2="326.09" y2="337.7" stroke="#666" stroke-width="0.25"/>
<line x1="341.06" y1="339.3" x2="341.06" y2="337.7" stroke="#666" stroke-width="0.25"/>
<line x1="45.5" y1="338.72" x2="47.1" y2="338.72" stroke="#666" stroke-width="0.25"/>
<line x1="45.5" y1="323.05" x2="47.1" y2="323.05" stroke="#666" stroke-width="0.25"/>
<line x1="45.5" y1="311.93" x2="47.1" y2="311.93" stroke="#666" stroke-width="0.25"/>
<line x1="45.5" y1="303.30" x2="48.5" y2="303.30" stroke="#666" stroke-width="0.25"/>
<line x1="45.5" y1="296.25" x2="47.1" y2="296.25" stroke="#666" stroke-width="0.25"/>
<line x1="45.5" y1="290.30" x2="47.1" y2="290.30" stroke="#666" stroke-width="0.25"/>
<line x1="45.5" y1="285.13" x2="47.1" y2="285.13" stroke="#666" stroke-width="0.25"/>
<line x1="45.5" y1="280.58" x2="47.1" y2="280.58" stroke="#666" stroke-width="0.25"/>
<line x1="45.5" y1="276.51" x2="48.5" y2="276.51" stroke="#666" stroke-width="0.25"/>
<line x1="45.5" y1="249.72" x2="47.1" y2="249.72" stroke="#666" stroke-width="0.25"/>
<line x1="45.5" y1="234.05" x2="47.1" y2="234.05" stroke="#666" stroke-width="0.25"/>
<line x1="45.5" y1="222.93" x2="47.1" y2="222.93" stroke="#666" stroke-width="0.25"/>
<line x1="45.5" y1="214.30" x2="48.5" y2="214.30" stroke="#666" stroke-width="0.25"/>
<line x1="45.5" y1="207.25" x2="47.1" y2="207.25" stroke="#666" stroke-width="0.25"/>
<line x1="45.5" y1="201.30" x2="47.1" y2="201.30" stroke="#666" stroke-width="0.25"/>
<line x1="45.5" y1="196.13" x2="47.1" y2="196.13" stroke="#666" stroke-width="0.25"/>
<line x1="45.5" y1="191.58" x2="47.1" y2="191.58" stroke="#666" stroke-width="0.25"/>
<line x1="45.5" y1="187.51" x2="48.5" y2="187.51" stroke="#666" stroke-width="0.25"/>
<line x1="45.5" y1="160.72" x2="47.1" y2="160.72" stroke="#666" stroke-width="0.25"/>
<line x1="45.5" y1="145.05" x2="47.1" y2="145.05" stroke="#666" stroke-width="0.25"/>
<line x1="45.5" y1="133.93" x2="47.1" y2="133.93" stroke="#666" stroke-width="0.25"/>
<line x1="45.5" y1="125.30" x2="48.5" y2="125.30" stroke="#666" stroke-width="0.25"/>
<line x1="45.5" y1="118.25" x2="47.1" y2="118.25" stroke="#666" stroke-width="0.25"/>
<line x1="45.5" y1="112.30" x2="47.1" y2="112.30" stroke="#666" stroke-width="0.25"/>
<line x1="45.5" y1="107.13" x2="47.1" y2="107.13" stroke="#666" stroke-width="0.25"/>
<line x1="45.5" y1="102.58" x2="47.1" y2="102.58" stroke="#666" stroke-width="0.25"/>
<line x1="45.5" y1="98.51" x2="48.5" y2="98.51" stroke="#666" stroke-width="0.25"/>
<line x1="45.5" y1="71.72" x2="47.1" y2="71.72" stroke="#666" stroke-width="0.25"/>
<line x1="45.5" y1="56.05" x2="47.1" y2="56.05" stroke="#666" stroke-width="0.25"/>
<line x1="45.5" y1="44.93" x2="47.1" y2="44.93" stroke="#666" stroke-width="0.25"/>
<line x1="45.5" y1="36.30" x2="48.5" y2="36.30" stroke="#666" stroke-width="0.25"/>
<line x1="45.5" y1="29.25" x2="47.1" y2="29.25" stroke="#666" stroke-width="0.25"/>
<line x1="45.5" y1="23.30" x2="47.1" y2="23.30" stroke="#666" stroke-width="0.25"/>
<line x1="45.5" y1="18.13" x2="47.1" y2="18.13" stroke="#666" stroke-width="0.25"/>

<text class="tk" x="44.60" y="40.50" text-anchor="end" transform="rotate(0.05 44.60 40.50)">0.500</text>
<text class="tk" x="44.60" y="102.71" text-anchor="end" transform="rotate(0.05 44.60 102.71)">0.100</text>
<text class="tk" x="44.60" y="129.50" text-anchor="end" transform="rotate(0.05 44.60 129.50)">0.050</text>
<text class="tk" x="44.60" y="191.71" text-anchor="end" transform="rotate(0.05 44.60 191.71)">0.010</text>
<text class="tk" x="44.60" y="218.50" text-anchor="end" transform="rotate(0.05 44.60 218.50)">0.005</text>
<text class="tk" x="44.60" y="280.71" text-anchor="end" transform="rotate(0.05 44.60 280.71)">0.001</text>
<text class="tk" x="44.60" y="307.50" text-anchor="end" transform="rotate(0.05 44.60 307.50)">5.<tspan dx="2.3">×</tspan><tspan dx="1.4">10</tspan><tspan font-size="8.5" dy="-5.2">−4</tspan></text>
<text class="tk" x="130.50" y="351.80" text-anchor="middle" transform="rotate(0.05 130.50 351.80)">0.001</text>
<text class="tk" x="215.50" y="351.80" text-anchor="middle" transform="rotate(0.05 215.50 351.80)">0.010</text>
<text class="tk" x="300.50" y="351.80" text-anchor="middle" transform="rotate(0.05 300.50 351.80)">0.100</text>
<text class="lb" x="22.80" y="13.00" text-anchor="start" transform="rotate(0.05 22.80 13.00)"><tspan font-style="italic">m</tspan><tspan font-style="italic" font-size="8.3" dy="2">ββ</tspan><tspan dy="-2" dx="3.9">(eV)</tspan></text>
<text class="lb" x="350.30" y="343.60" text-anchor="start" transform="rotate(0.05 350.30 343.60)"><tspan font-style="italic">m</tspan><tspan font-size="8.3" dy="1.8">lightest</tspan><tspan dy="-1.8" dx="3.3">(eV)</tspan></text>
<rect x="138.9" y="41.6" width="38.80" height="13.45" fill="#fff"/>
<text class="bl" x="139.60" y="52.00" text-anchor="start" transform="rotate(0.05 139.60 52.00)">CUORE</text>
<rect x="139.8" y="72.0" width="38.30" height="13.40" fill="#fff"/>
<text class="bl" x="140.30" y="82.70" text-anchor="start" transform="rotate(0.05 140.30 82.70)">GERDA</text>
<rect x="138.9" y="102.5" width="76.60" height="13.00" fill="#fff"/>
<text class="bl" x="140.00" y="112.90" text-anchor="start" transform="rotate(0.05 140.00 112.90)"><tspan letter-spacing="0.08">KamLAND</tspan><tspan font-size="11.5">−</tspan><tspan dx="0.5">Zen</tspan></text>
<rect x="291.2" y="224.1" width="26.5" height="7.5" fill="#5E81B5" fill-opacity="0.5" stroke="#4a6690" stroke-opacity="0.55" stroke-width="0.5"/>
<rect x="291.2" y="241.3" width="26.5" height="7.5" fill="#E19C24" fill-opacity="0.5" stroke="#b07a1c" stroke-opacity="0.55" stroke-width="0.5"/>
<text class="lg" x="324.40" y="232.50" text-anchor="start" transform="rotate(0.05 324.40 232.50)">NH</text>
<text class="lg" x="324.40" y="249.60" text-anchor="start" transform="rotate(0.05 324.40 249.60)">IH</text>
</svg></body></html>
